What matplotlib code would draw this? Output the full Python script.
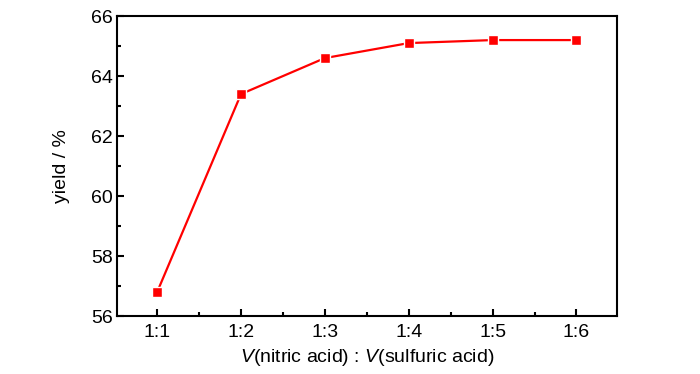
import matplotlib
matplotlib.use('Agg')
from matplotlib import pyplot as plt
from matplotlib.ticker import MultipleLocator

ratios = ['1:1', '1:2', '1:3', '1:4', '1:5', '1:6']
yields = [56.8, 63.4, 64.6, 65.1, 65.2, 65.2]

plt.rcParams['font.family'] = ['Liberation Sans', 'DejaVu Sans']
plt.rcParams['mathtext.fontset'] = 'custom'
plt.rcParams['mathtext.it'] = 'Liberation Sans:italic'
plt.rcParams['mathtext.rm'] = 'Liberation Sans'

fig = plt.figure(figsize=(7, 3.74), dpi=100)
ax = fig.add_axes([0.167, 0.155, 0.714, 0.802])

x = list(range(1, len(ratios) + 1))
ax.plot(x, yields, color='#ff0000', linewidth=1.6, marker='s', markersize=7,
        markerfacecolor='#ff0000', markeredgecolor='white', markeredgewidth=1.0)

ax.set_xlim(0.52, 6.48)
ax.set_ylim(56, 66)
ax.set_xticks(x)
ax.set_xticklabels(ratios)
ax.xaxis.set_minor_locator(MultipleLocator(0.5))
ax.yaxis.set_major_locator(MultipleLocator(2))
ax.yaxis.set_minor_locator(MultipleLocator(1))

for s in ax.spines.values():
    s.set_linewidth(1.5)
ax.tick_params(which='major', direction='in', length=5, width=1.5, labelsize=14)
ax.tick_params(which='minor', direction='in', length=3, width=1.5)
ax.tick_params(axis='x', which='major', pad=6)
ax.tick_params(axis='y', which='major', pad=3)
ax.tick_params(which='both', top=False, right=False)

ax.set_xlabel('$V$(nitric acid) : $V$(sulfuric acid)', fontsize=14, labelpad=4)
ax.set_ylabel('yield / %', fontsize=14, labelpad=15)

fig.savefig('out.png', dpi=100)
